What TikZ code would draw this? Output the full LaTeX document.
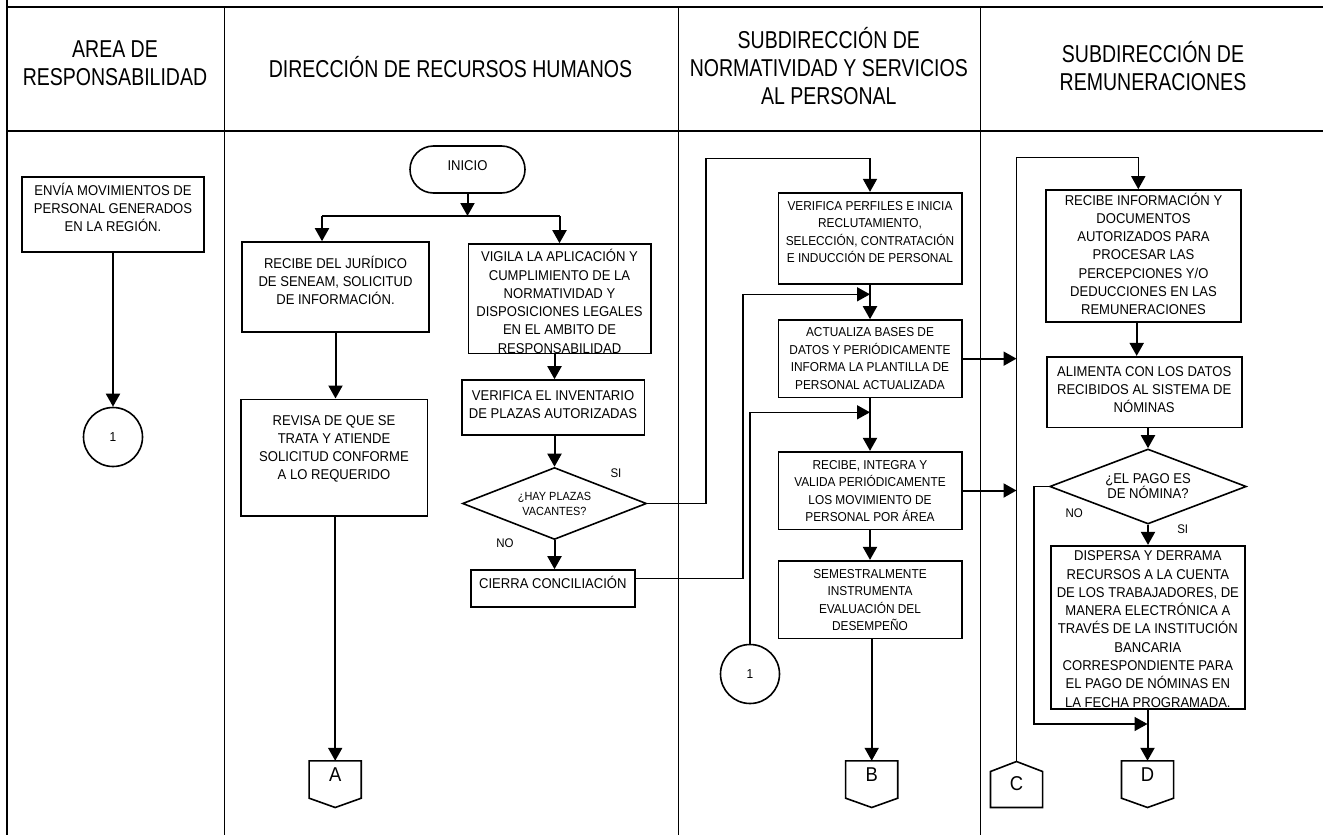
\documentclass[tikz,border=0pt]{standalone}
\usepackage{fontspec}
\setmainfont{Liberation Sans}[FakeStretch=0.92]
\newfontfamily\hdfont{Liberation Sans}[FakeStretch=0.8]
\usetikzlibrary{arrows.meta,shapes.geometric,calc}
\newcommand{\fm}{\fontsize{14.2}{18.3}\selectfont}
\newcommand{\fsm}{\fontsize{12.9}{17.5}\selectfont}
\newcommand{\fhd}{\hdfont\fontsize{24.4}{28}\selectfont}
\newcommand{\fdA}{\fontsize{11.85}{15}\selectfont}
\newcommand{\fdB}{\fontsize{14.2}{15}\selectfont}
\newcommand{\fone}{\fontsize{13}{15}\selectfont}
\newcommand{\fcon}{\fontsize{20}{22}\selectfont}
\newcommand{\flb}{\fontsize{12.5}{14}\selectfont}
\newcommand{\bt}[4]{\parbox[c][#2][t]{#1}{\centering\vspace*{#3}\strut #4\par}}
\begin{document}
\begin{tikzpicture}[x=1pt,y=-1pt,
  grid/.style={line width=1.1pt},
  box/.style={draw,line width=1.6pt,inner sep=0pt,font=\fm},
  sbox/.style={box,font=\fsm},
  dia/.style={draw,diamond,aspect=2.5,inner sep=0pt,line width=1.6pt,align=center},
  circ/.style={draw,circle,line width=1.6pt,minimum size=59pt,inner sep=0pt,font=\fone},
  conn/.style={inner sep=0pt,minimum width=51.7pt,font=\fcon},
  shp/.style={line width=1.6pt,line join=miter},
  hd/.style={align=center,inner sep=0pt,font=\fhd},
  lbl/.style={inner sep=1.5pt,font=\flb},
  arr/.style={line width=2pt,-{Triangle[length=13pt,width=14pt]}},
  arrb/.style={arr,line width=1.6pt}
]
\useasboundingbox (0,0) rectangle (1323,835);
% table grid
\draw[grid] (7,0) -- (7,835);
\draw[grid] (7,7) -- (1323,7);
\draw[grid] (7,131) -- (1323,131);
\draw[grid] (224.3,7) -- (224.3,835);
\draw[grid] (678.3,7) -- (678.3,835);
\draw[grid] (980.3,7) -- (980.3,835);
% headers
\node[hd] (h1) at (115,63.4) {AREA DE\\RESPONSABILIDAD};
\node[hd] (h2) at (450.5,67) {DIRECCIÓN DE RECURSOS HUMANOS};
\node[hd] (h3) at (828.8,66.5) {SUBDIRECCIÓN DE\\NORMATIVIDAD Y SERVICIOS\\AL PERSONAL};
\node[hd] (h4) at (1153,65.8) {SUBDIRECCIÓN DE\\REMUNERACIONES};
% lane 1
\node[box] (env) at (113,214.5) {\bt{182pt}{75pt}{5.2pt}{ENVÍA MOVIMIENTOS DE\\PERSONAL GENERADOS\\EN LA REGIÓN.}};
\node[circ] (c1) at (113,437) {1};
% lane 2
\node[box,rounded corners=23.5pt] (ini) at (467.5,169.5) {\bt{115pt}{47pt}{11.2pt}{INICIO}};
\node[box] (rjur) at (335.5,287) {\bt{187pt}{90pt}{13.5pt}{RECIBE DEL JURÍDICO\\DE SENEAM, SOLICITUD\\DE INFORMACIÓN.}};
\node[box] (rev) at (334,457.5) {\bt{186.6pt}{116.4pt}{12.9pt}{REVISA DE QUE SE\\TRATA Y ATIENDE\\SOLICITUD CONFORME\\A LO REQUERIDO}};
\node[box] (vig) at (559.5,298.65) {\bt{182.4pt}{109.3pt}{4.9pt}{VIGILA LA APLICACIÓN Y\\CUMPLIMIENTO DE LA\\NORMATIVIDAD Y\\DISPOSICIONES LEGALES\\EN EL AMBITO DE\\RESPONSABILIDAD}};
\node[box] (ver1) at (553,407.5) {\bt{182.6pt}{55pt}{7.2pt}{VERIFICA EL INVENTARIO\\DE PLAZAS AUTORIZADAS}};
\node[dia,font=\fdA,minimum width=184pt,minimum height=72pt] (d1) at (554.5,503.5) {¿HAY PLAZAS\\VACANTES?};
\node[box] (cie) at (552.85,588.35) {\bt{164.3pt}{36.7pt}{5.5pt}{CIERRA CONCILIACIÓN}};
\node[conn,minimum height=27pt] (A) at (335.2,774.5) {A};
% lane 3
\node[sbox] (vp) at (870,238.35) {\bt{183.4pt}{91.3pt}{5.05pt}{VERIFICA PERFILES E INICIA\\RECLUTAMIENTO,\\SELECCIÓN, CONTRATACIÓN\\E INDUCCIÓN DE PERSONAL}};
\node[sbox] (act) at (870,358.65) {\bt{183.4pt}{77.3pt}{4.45pt}{ACTUALIZA BASES DE\\DATOS Y PERIÓDICAMENTE\\INFORMA LA PLANTILLA DE\\PERSONAL ACTUALIZADA}};
\node[sbox] (ri) at (870,490.5) {\bt{183.4pt}{77.6pt}{5.35pt}{RECIBE, INTEGRA Y\\VALIDA PERIÓDICAMENTE\\LOS MOVIMIENTO DE\\PERSONAL POR ÁREA}};
\node[sbox] (sem) at (870,599.5) {\bt{183.4pt}{77.6pt}{5.35pt}{SEMESTRALMENTE\\INSTRUMENTA\\EVALUACIÓN DEL\\DESEMPEÑO}};
\node[circ] (c2) at (750,674) {1};
\node[conn,minimum height=27pt] (B) at (871.7,774.5) {B};
% lane 4
\node[box] (rinf) at (1143.5,256) {\bt{195pt}{132pt}{2.2pt}{RECIBE INFORMACIÓN Y\\DOCUMENTOS\\AUTORIZADOS PARA\\PROCESAR LAS\\PERCEPCIONES Y/O\\DEDUCCIONES EN LAS\\REMUNERACIONES}};
\node[box] (alim) at (1144.2,392) {\bt{195pt}{70.6pt}{6.5pt}{ALIMENTA CON LOS DATOS\\RECIBIDOS AL SISTEMA DE\\NÓMINAS}};
\node[dia,font=\fdB,minimum width=196.6pt,minimum height=75pt] (d2) at (1148,486.5) {¿EL PAGO ES\\DE NÓMINA?};
\node[box] (disp) at (1147.85,627.35) {\bt{194.3pt}{163.3pt}{2.2pt}{DISPERSA Y DERRAMA\\RECURSOS A LA CUENTA\\DE LOS TRABAJADORES, DE\\MANERA ELECTRÓNICA A\\TRAVÉS DE LA INSTITUCIÓN\\BANCARIA\\CORRESPONDIENTE PARA\\EL PAGO DE NÓMINAS EN\\LA FECHA PROGRAMADA.}};
\node[conn,minimum height=24.6pt] (C) at (1016.5,784) {C};
\node[conn,minimum height=27pt] (D) at (1147.5,774.5) {D};
% connector outlines
\foreach \n in {A,B,D}{
  \draw[shp] (\n.north west) -- (\n.north east) -- ([yshift=-10pt]\n.south east) -- ([yshift=-19.3pt]\n.south) -- ([yshift=-10pt]\n.south west) -- cycle;
}
\draw[shp] ([yshift=-11pt]C.south west) -- (C.north west) -- ([yshift=10pt]C.north) -- (C.north east) -- ([yshift=-11pt]C.south east) -- cycle;
% labels
\node[lbl] (si1) at (616,472.7) {SI};
\node[lbl] (no1) at (505,542.7) {NO};
\node[lbl,fill=white] (no2) at (1074.3,512.7) {NO};
\node[lbl] (si2) at (1182.7,529.3) {SI};
% coordinates
\coordinate (sp) at (467.5,216);
\coordinate (rjin) at ([xshift=-13.5pt]rjur.north);
\coordinate (siA) at (705.7,158.3);
\coordinate (cA) at (742.7,294.3);
\coordinate (y412) at (0,412.3);
\coordinate (Cap) at ([yshift=10pt]C.north);
\coordinate (t157) at (0,157.3);
\coordinate (rin) at ([xshift=-5.2pt]rinf.north);
\coordinate (ra) at ([xshift=-6.8pt]rinf.south);
\coordinate (noA) at (1034,724);
% lane 1 flow
\draw[arr] (env.south) -- (c1.north);
% lane 2 flow
\draw[arr] (ini.south) -- (sp);
\draw[line width=2pt] (rjin |- sp) -- (vig.north |- sp);
\draw[arr] (rjin |- sp) -- (rjin);
\draw[arr] (vig.north |- sp) -- (vig.north);
\draw[arr] (rjur.south) -- (rjur.south |- rev.north);
\draw[arr] (rev.south -| A.north) -- (A.north);
\draw[arr] (vig.south -| d1.north) -- (ver1.north -| d1.north);
\draw[arr] (ver1.south -| d1.north) -- (d1.north);
\draw[arr] (d1.south) -- (d1.south |- cie.north);
\draw[arrb] (d1.east) -| (siA) -| (vp.north);
\draw[arrb] ([yshift=10pt]cie.east) -| (cA) -- (cA -| vp.south);
% lane 3 flow
\draw[arr] (vp.south) -- (act.north);
\draw[arr] (act.east) -- (act.east -| Cap);
\draw[arrb] (c2.north) -- (c2.north |- y412) -- (vp.south |- y412);
\draw[arr] (act.south) -- (ri.north);
\draw[arr] (ri.east) -- (ri.east -| Cap);
\draw[arr] (ri.south) -- (sem.north);
\draw[arr] (sem.south -| B.north) -- (B.north);
% lane 4 flow
\draw[arrb] (Cap) -- (Cap |- t157) -| (rin);
\draw[arr] (ra) -- (ra |- alim.north);
\draw[arr] (alim.south -| d2.north) -- (d2.north);
\draw[arr] (d2.south) -- (d2.south |- disp.north);
\draw[arrb] (d2.west) -| (noA) -- (noA -| D.north);
\draw[arr] (disp.south -| D.north) -- (D.north);
\end{tikzpicture}
\end{document}
